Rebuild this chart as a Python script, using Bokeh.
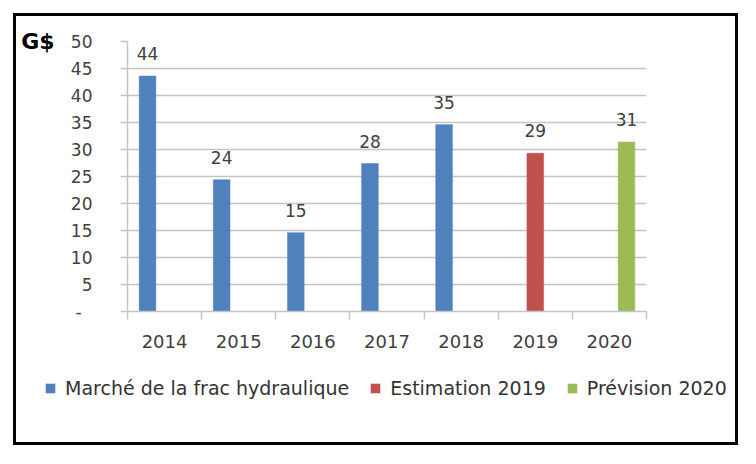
from bokeh.plotting import figure
from bokeh.layouts import column
from bokeh.models import (ColumnDataSource, Range1d, FixedTicker, LabelSet, LinearAxis,
                          Legend, LegendItem, InlineStyleSheet)
from bokeh.core.properties import value
from bokeh.embed import file_html
from bokeh.resources import INLINE

# ---- data ----
years = ["2014", "2015", "2016", "2017", "2018", "2019", "2020"]
marche = [43.6, 24.4, 14.6, 27.4, 34.6, None, None]
estimation = [None, None, None, None, None, 29.3, None]
prevision = [None, None, None, None, None, None, 31.4]
value_labels = ["44", "24", "15", "28", "35", "29", "31"]
series_names = ["Marché de la frac hydraulique", "Estimation 2019", "Prévision 2020"]
series_colors = ["#4F81BD", "#C0504D", "#9BBB59"]
y_ticks = [0, 5, 10, 15, 20, 25, 30, 35, 40, 45, 50]
unit_label = "G$"

FONT = "DejaVu Sans"
GRID = "#C4C4C4"
TXT = "#404040"

n = len(years)
centers = [i + 0.5 for i in range(n)]
bar_w = 0.225
offsets = [-0.23, 0.0, 0.23]
all_series = [marche, estimation, prevision]

W, H_TOP, H_LEG = 751, 375, 83

# ---------- chart figure ----------
p = figure(width=W, height=H_TOP, output_backend="svg", toolbar_location=None,
           x_range=Range1d(0, n), y_range=Range1d(0, 50),
           min_border_left=127, min_border_right=105,
           min_border_top=41, min_border_bottom=64)
p.frame_align = False
p.outline_line_color = None
p.background_fill_color = "white"
p.border_fill_color = "white"

for s_idx, (vals, color) in enumerate(zip(all_series, series_colors)):
    xs = [c + offsets[s_idx] for c, v in zip(centers, vals) if v is not None]
    ys = [v for v in vals if v is not None]
    src = ColumnDataSource(dict(x=xs, top=ys))
    p.vbar(x="x", top="top", width=bar_w, bottom=0, source=src,
           fill_color=color, line_color=color, line_width=0.5)

label_x, label_y = [], []
for i in range(n):
    for s_idx, vals in enumerate(all_series):
        if vals[i] is not None:
            label_x.append(centers[i] + offsets[s_idx])
            label_y.append(vals[i])

lab_src = ColumnDataSource(dict(x=label_x, y=label_y, text=value_labels))
labels = LabelSet(x="x", y="y", text="text", source=lab_src,
                  text_align="center", text_baseline="alphabetic", y_offset=16,
                  text_font=value(FONT), text_font_size=value("17px"), text_color=TXT)
p.add_layout(labels)

# y axis
p.yaxis.ticker = FixedTicker(ticks=y_ticks)
p.yaxis.major_label_overrides = {0: "-\u00a0\u00a0"}
p.yaxis.axis_line_color = GRID
p.yaxis.axis_line_width = 1.5
p.yaxis.major_tick_line_color = GRID
p.yaxis.major_tick_line_width = 1.5
p.yaxis.major_tick_out = 7
p.yaxis.major_tick_in = 0
p.yaxis.minor_tick_line_color = None
p.yaxis.major_label_standoff = 28
p.yaxis.major_label_text_font = FONT
p.yaxis.major_label_text_font_size = "17px"
p.yaxis.major_label_text_color = TXT

# unit label "G$" as an outer left axis with a single tick at the top value
unit_axis = LinearAxis(ticker=FixedTicker(ticks=[y_ticks[-1]]),
                       major_label_overrides={y_ticks[-1]: unit_label},
                       axis_line_color=None, major_tick_line_color=None,
                       minor_tick_line_color=None, major_tick_out=0, major_tick_in=0,
                       major_label_standoff=13, major_label_text_font=FONT,
                       major_label_text_font_style="bold",
                       major_label_text_font_size="22px",
                       major_label_text_color="black")
p.add_layout(unit_axis, "left")

# x axis
p.xaxis.ticker = FixedTicker(ticks=centers, minor_ticks=list(range(n + 1)))
p.xaxis.major_label_overrides = {c: y for c, y in zip(centers, years)}
p.xaxis.axis_line_color = GRID
p.xaxis.axis_line_width = 1.5
p.xaxis.major_tick_line_color = None
p.xaxis.major_tick_out = 0
p.xaxis.major_tick_in = 0
p.xaxis.minor_tick_line_color = GRID
p.xaxis.minor_tick_line_width = 1.5
p.xaxis.minor_tick_out = 8
p.xaxis.minor_tick_in = 0
p.xaxis.major_label_standoff = 15
p.xaxis.major_label_text_font = FONT
p.xaxis.major_label_text_font_size = "18px"
p.xaxis.major_label_text_color = TXT

p.xgrid.visible = False
p.ygrid.ticker = FixedTicker(ticks=y_ticks)
p.ygrid.grid_line_color = GRID
p.ygrid.grid_line_width = 1.5

# ---------- legend strip ----------
# Its ranges keep the series swatch renderers out of view (below-right of the strip).
q = figure(width=W, height=H_LEG, output_backend="svg", toolbar_location=None,
           x_range=Range1d(-40, -33), y_range=Range1d(200, 201),
           min_border=0, min_border_left=0, min_border_right=0,
           min_border_top=0, min_border_bottom=0)
q.frame_align = False
q.axis.visible = False
q.grid.visible = False
q.outline_line_color = None
q.background_fill_color = "white"
q.border_fill_color = "white"

leg_renderers = []
for s_idx, (vals, color) in enumerate(zip(all_series, series_colors)):
    xs = [c + offsets[s_idx] for c, v in zip(centers, vals) if v is not None]
    ys = [v for v in vals if v is not None]
    src = ColumnDataSource(dict(x=xs, top=ys))
    r = q.vbar(x="x", top="top", width=bar_w, bottom=0, source=src,
               fill_color=color, line_color=None)
    leg_renderers.append(r)

legend = Legend(items=[LegendItem(label=nm, renderers=[r]) for nm, r in zip(series_names, leg_renderers)],
                orientation="horizontal", location=(44, 59),
                glyph_width=12, glyph_height=12, label_standoff=9, spacing=20,
                padding=0, margin=0, border_line_alpha=0, background_fill_alpha=0,
                label_text_font=FONT, label_text_font_size="19px", label_text_color="#333333")
q.add_layout(legend)

layout = column(p, q, spacing=0)
layout.stylesheets = [InlineStyleSheet(css=(
    ":host { position: relative; }"
    ":host::after { content: ''; position: absolute; left: 13px; top: 13px;"
    " width: 719px; height: 426px; border: 3px solid #000; box-sizing: content-box;"
    " z-index: 1000; pointer-events: none; }"))]

open("out.html", "w").write(file_html(layout, INLINE))
